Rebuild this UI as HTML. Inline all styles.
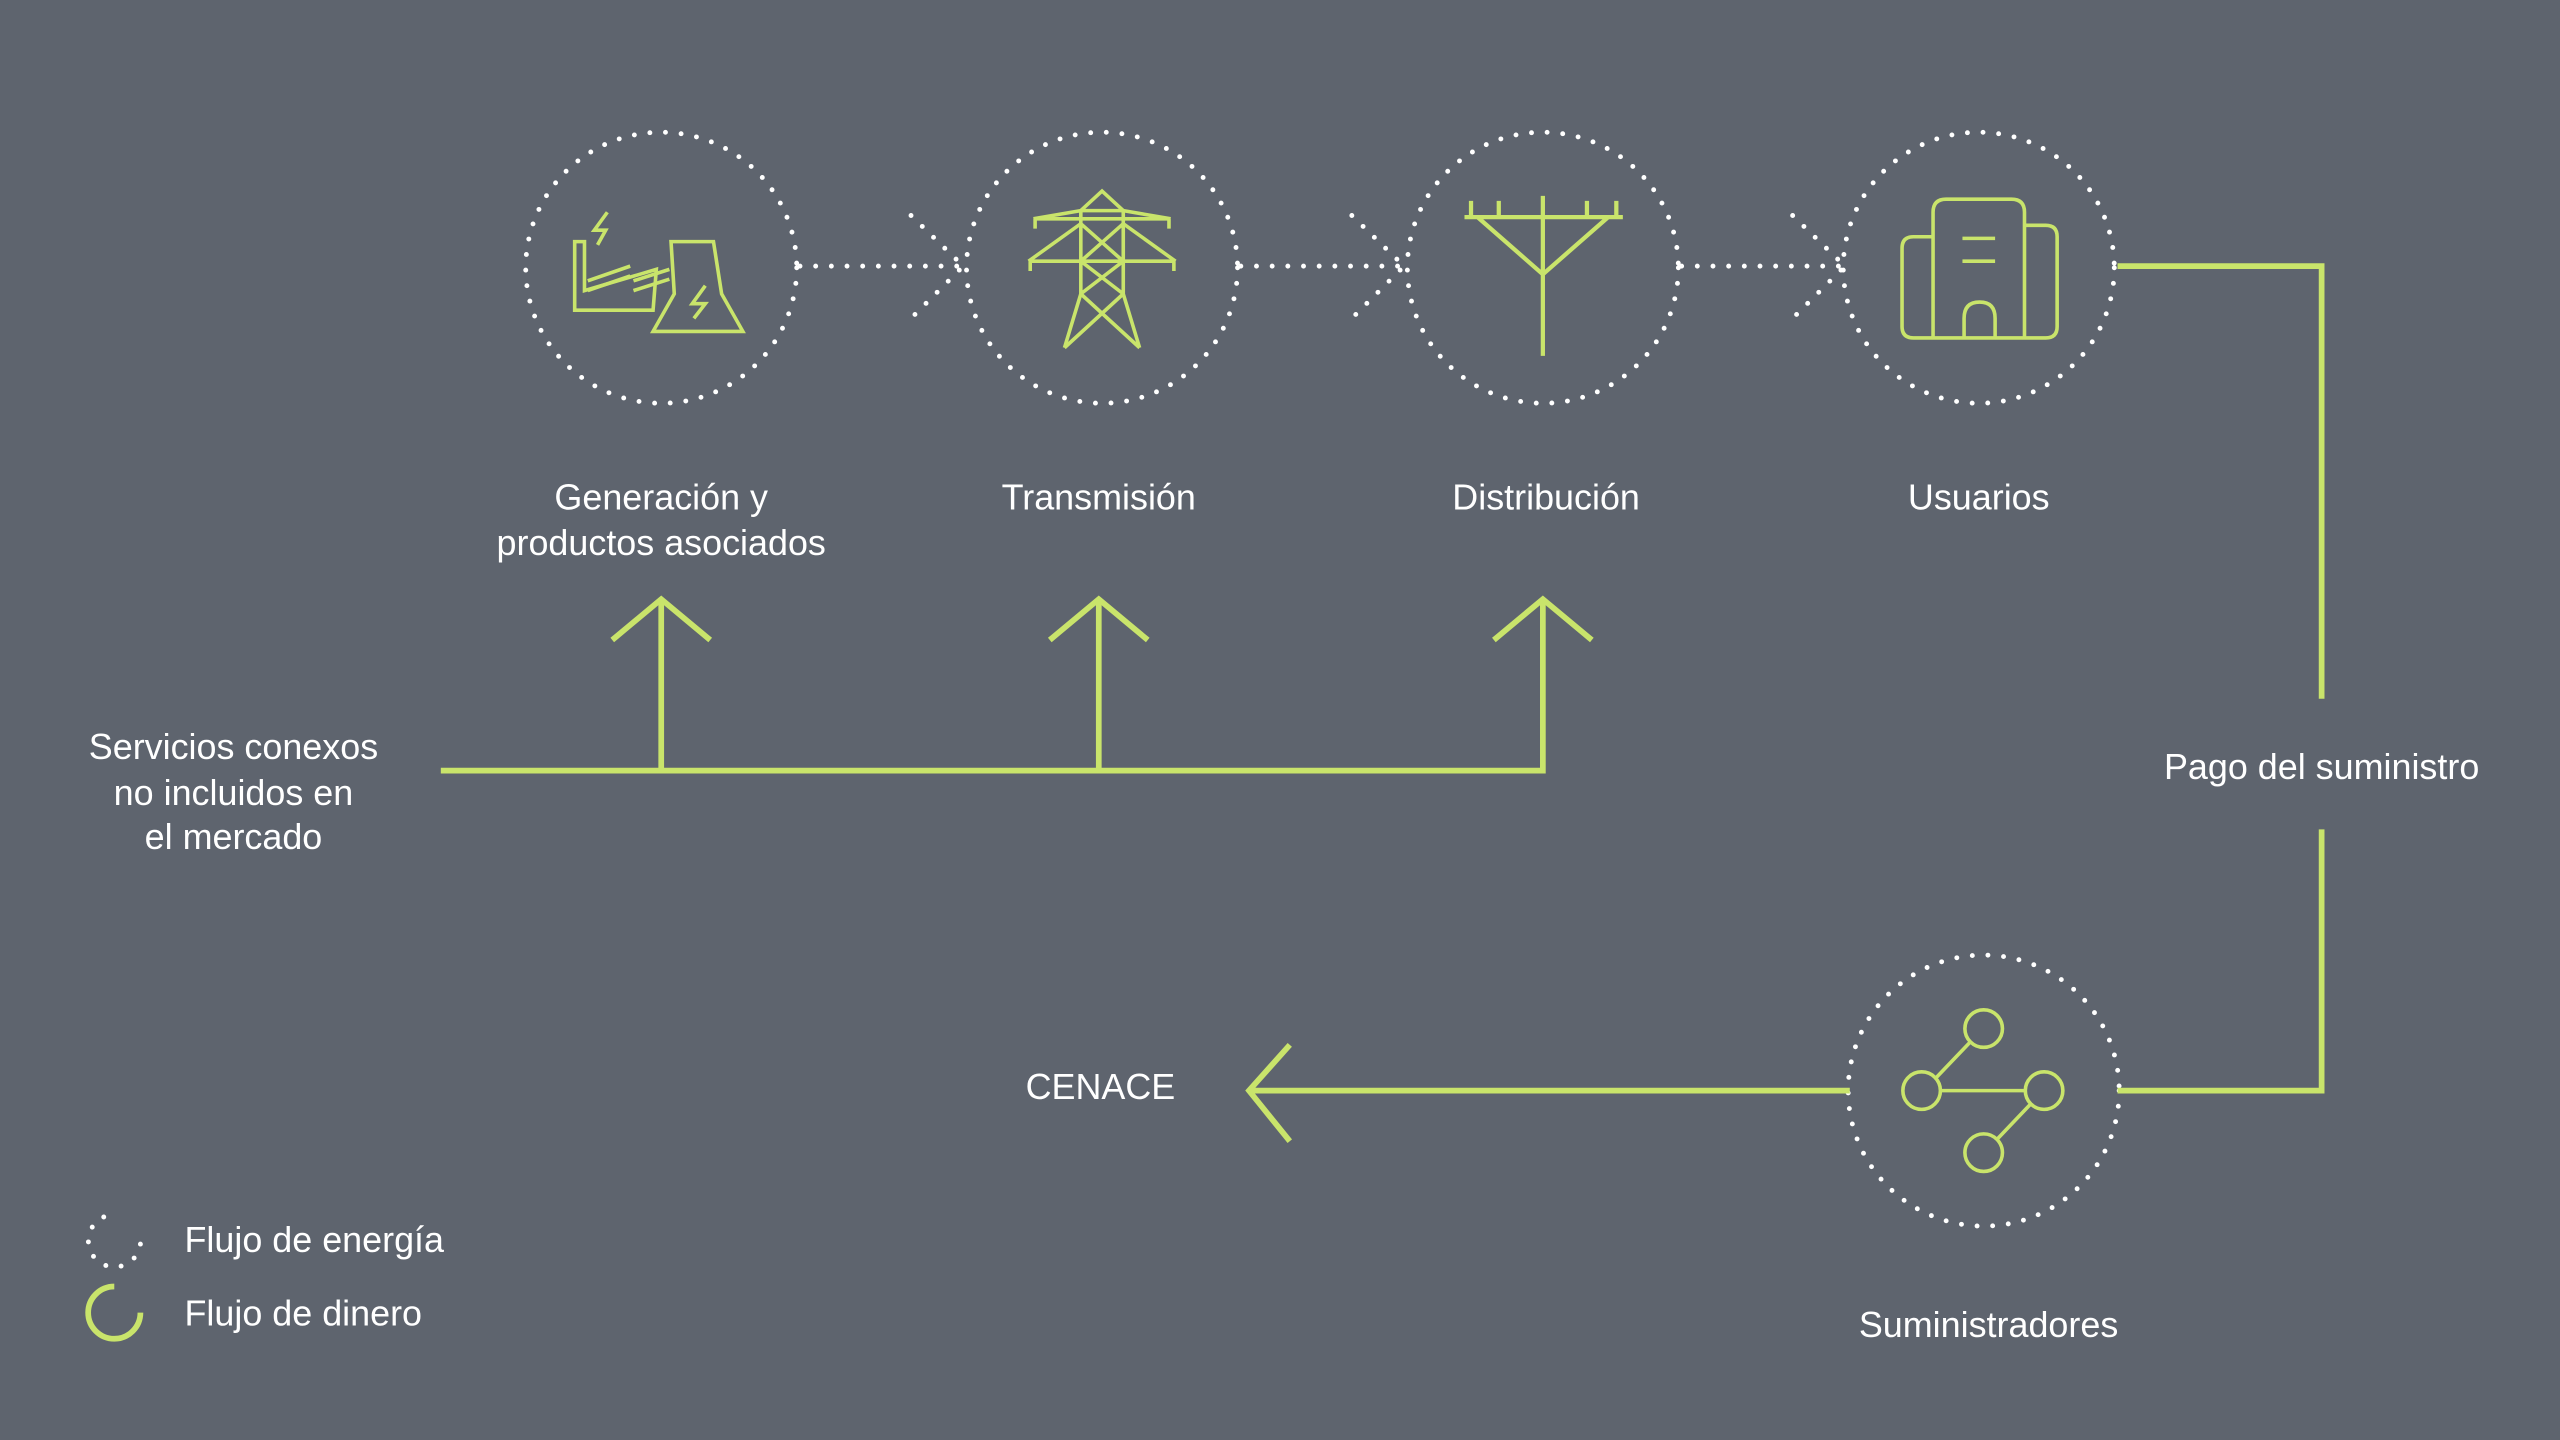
<!DOCTYPE html>
<html><head><meta charset="utf-8"><style>
html,body{margin:0;padding:0;background:#5e646e;}
svg{display:block}
text{font-family:"Liberation Sans",Arial,sans-serif;fill:#fff;font-size:22px;text-anchor:middle}
</style></head><body>
<svg width="2560" height="1440" viewBox="0 0 1568 882" xmlns="http://www.w3.org/2000/svg">
<rect width="1568" height="882" fill="#5e646e"/>
<g fill="none" stroke="#fff" stroke-width="3" stroke-linecap="round" stroke-dasharray="0 9.6">
<circle cx="405" cy="164" r="83"/>
<circle cx="675" cy="164" r="83"/>
<circle cx="945" cy="164" r="83"/>
<circle cx="1212" cy="164" r="83"/>
<circle cx="1215" cy="668" r="83"/>
<path d="M490 163 H590 M558 132 L590 163 L558 195"/>
<path d="M760 163 H860 M828 132 L860 163 L828 195"/>
<path d="M1030 163 H1130 M1098 132 L1130 163 L1098 195"/>
</g>
<g fill="none" stroke="#c9e46b" stroke-width="3.5">
<path d="M270 472 H945 V367 M405 472 V367 M673 472 V367"/>
<path d="M375 392 L405 367 L435 392 M643 392 L673 367 L703 392 M915 392 L945 367 L975 392"/>
<path d="M1297 163 H1422 V428 M1422 508 V668 H1297"/>
<path d="M1133 668 H765 M790 640 L765 668 L790 699"/>
</g>
<g fill="none" stroke="#c9e46b" stroke-width="2.2" stroke-linejoin="miter">
<path d="M352 190 V148 H358 V178 L402 165 L400 190 Z"/>
<path d="M360 172 L386 163 M360 178 L386 169 M388 172 L410 165 M388 178 L410 171"/>
<path d="M411 148 H437 L442 180 L455 203 H400 L413 180 Z"/>
<path d="M372 130 L364 141 H371 L366 150 M432 175 L424 186 H432 L425 195"/>
<path d="M675 117 L662 129 L688 129 Z M633 134 H717 M630 160 H720 M662 129 L633 134 M688 129 L717 134 M662 137 L630 160 M688 137 L720 160 M634 134 V140 M716 134 V140 M631 160 V166 M719 160 V166"/>
<path d="M662 129 V180 L652 213 M688 129 V180 L698 213 M662 137 L688 160 M688 137 L662 160 M662 160 L688 180 M688 160 L662 180 M662 180 L698 213 M688 180 L652 213"/>
<path d="M945 120 V218 M897 133 H994 M905 133 L945 168 L985 133 M901 123 V133 M918 123 V133 M972 123 V133 M990 123 V133" stroke-width="2.6"/>
<path d="M1184 207 V130 Q1184 122 1192 122 H1232 Q1240 122 1240 130 V207 M1184 145 H1172 Q1165 145 1165 152 V200 Q1165 207 1172 207 H1253 Q1260 207 1260 200 V145 Q1260 138 1253 138 H1240 M1202 146 H1222 M1202 160 H1222 M1203 207 V195 Q1203 185 1212.5 185 Q1222 185 1222 195 V207"/>
<circle cx="1215" cy="630" r="11.5"/><circle cx="1177" cy="668" r="11.5"/><circle cx="1252" cy="668" r="11.5"/><circle cx="1215" cy="706" r="11.5"/>
<path d="M1188 668 H1241 M1186 660 L1207 638 M1244 676 L1223 698"/>
</g>
<path d="M86 762 A16 16 0 1 1 70 744" fill="none" stroke="#fff" stroke-width="3" stroke-linecap="round" stroke-dasharray="0 9.5"/>
<path d="M70 788 A16 16 0 1 0 86 804" fill="none" stroke="#c9e46b" stroke-width="3.5"/>
<text x="113" y="767" style="text-anchor:start">Flujo de energía</text>
<text x="113" y="812" style="text-anchor:start">Flujo de dinero</text>
<text x="405" y="312">Generación y</text>
<text x="405" y="340">productos asociados</text>
<text x="673" y="312">Transmisión</text>
<text x="947" y="312">Distribución</text>
<text x="1212" y="312">Usuarios</text>
<text x="1422" y="477">Pago del suministro</text>
<text x="143" y="465">Servicios conexos</text>
<text x="143" y="493">no incluidos en</text>
<text x="143" y="520">el mercado</text>
<text x="674" y="673">CENACE</text>
<text x="1218" y="819">Suministradores</text>
</svg>
</body></html>
